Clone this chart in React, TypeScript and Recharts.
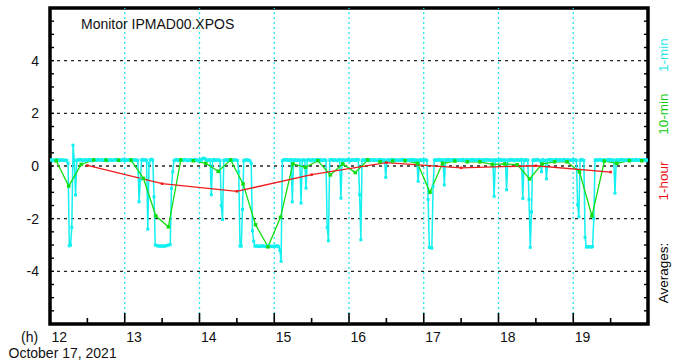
import React from 'react';
import { LineChart, Line, XAxis, YAxis, ReferenceLine, ReferenceArea } from 'recharts';

// 1-minute averages, 12:00 .. 20:00 (480 values, one per minute)
const oneMinValues: number[] = [
  0.22, 0.24, 0.2, 0.23, 0.21, 0.25, 0.22, 0.2, 0.24, 0.22, 0.21, 0.23, 0.2, 0.22, 0.1, -3.03, -3.0, -2.33, 0.79, 0.22,
  -1.1, 0.21, 0.24, 0.22, 0.25, 0.23, 0.2, 0.22, 0.24, 0.21, 0.23, 0.25, 0.22, 0.2, 0.23, 0.24, 0.22, 0.21, 0.25, 0.23,
  0.22, 0.24, 0.21, 0.23, 0.25, 0.22, 0.2, 0.23, 0.24, 0.22, 0.21, 0.23, 0.25, 0.22, 0.24, 0.2, 0.22, 0.23, 0.25, 0.21,
  0.23, 0.21, 0.24, 0.22, 0.25, 0.2, 0.23, 0.22, 0.24, 0.21, 0.22, -1.36, -0.52, 0.23, 0.25, 0.21, 0.24, 0.22, -2.4, 0.1,
  0.24, 0.26, 0.22, -1.17, -3.0, -3.02, -3.04, -3.03, -3.05, -3.04, -3.03, -3.05, -3.04, -3.02, -3.01, -3.0, -2.98, -0.85, -0.22, 0.2,
  0.23, 0.25, 0.22, 0.2, 0.24, 0.22, 0.21, 0.23, 0.25, 0.22, 0.2, 0.23, 0.22, 0.24, 0.21, 0.22, 0.25, 0.23, 0.2, 0.22,
  0.24, 0.22, 0.28, 0.3, 0.27, 0.22, 0.21, 0.24, 0.23, -1.09, 0.22, 0.25, 0.21, 0.23, 0.22, 0.24, 0.2, -1.5, -2.03, 0.22,
  0.22, 0.24, 0.21, 0.23, 0.25, 0.22, 0.2, 0.23, 0.24, 0.22, 0.21, -0.22, -3.04, -3.04, -1.65, 0.2, 0.23, 0.22, 0.24, 0.21,
  0.2, 0.1, -2.46, -2.86, -3.04, -3.05, -3.03, -3.06, -3.04, -3.05, -3.03, -3.04, -3.06, -3.05, -3.04, -3.03, -3.05, -3.04, -3.06, -3.05,
  -3.04, -3.05, -3.03, -3.06, -3.2, -3.62, 0.2, 0.23, 0.25, 0.22, 0.24, 0.21, 0.23, 0.25, -1.36, 0.22, 0.24, 0.21, 0.23, 0.22,
  0.23, -1.41, 0.22, 0.24, 0.21, -0.84, 0.23, 0.25, 0.22, 0.2, 0.24, 0.22, 0.23, 0.21, 0.25, 0.22, 0.24, 0.2, 0.23, 0.22,
  0.24, 0.21, -2.33, -2.84, 0.22, 0.25, 0.23, 0.21, 0.24, 0.22, 0.2, 0.23, 0.25, -1.22, 0.22, 0.24, 0.21, 0.23, 0.22, 0.25,
  0.22, 0.2, 0.24, 0.23, 0.21, 0.25, 0.22, 0.24, -1.09, -2.8, 0.22, 0.24, 0.21, 0.23, 0.25, 0.22, 0.2, 0.24, 0.23, 0.21,
  0.24, 0.22, 0.21, 0.23, 0.25, 0.22, 0.24, 0.2, 0.23, -0.43, 0.22, 0.24, 0.21, 0.23, 0.25, 0.22, 0.24, 0.21, 0.23, 0.22,
  0.21, 0.24, 0.22, 0.25, 0.23, 0.2, 0.22, 0.24, 0.21, 0.23, 0.25, 0.22, 0.24, 0.21, 0.23, -0.58, 0.22, 0.24, 0.2, 0.23,
  0.22, 0.24, 0.21, -1.27, -3.09, -3.1, -3.12, -0.77, 0.22, 0.24, 0.21, 0.23, 0.25, 0.22, 0.2, 0.24, -0.72, 0.23, 0.22, 0.25,
  0.23, 0.21, 0.24, 0.22, 0.25, 0.2, 0.23, 0.22, 0.24, 0.21, 0.23, 0.25, 0.22, 0.2, 0.24, 0.22, 0.23, 0.21, 0.25, 0.22,
  0.24, 0.21, 0.23, 0.22, 0.25, 0.2, 0.22, 0.24, 0.21, 0.23, 0.25, 0.22, 0.24, 0.21, 0.23, 0.22, -1.15, 0.24, 0.21, 0.23,
  0.22, 0.25, 0.21, 0.23, 0.24, 0.22, -0.9, 0.23, 0.21, 0.25, 0.22, 0.24, 0.2, 0.23, 0.22, 0.24, 0.21, 0.23, 0.25, -1.23,
  0.22, 0.24, 0.21, 0.23, -1.27, -3.09, -1.74, 0.22, 0.24, 0.21, 0.23, 0.25, 0.22, 0.2, -0.22, 0.24, 0.22, 0.21, -0.49, 0.23,
  0.25, 0.22, 0.24, 0.21, 0.23, 0.22, 0.25, 0.2, 0.23, 0.24, 0.22, 0.21, 0.25, 0.23, 0.22, 0.24, 0.2, 0.23, 0.21, 0.24,
  0.22, 0.24, 0.21, -1.47, -1.93, 0.22, 0.25, 0.23, 0.21, -2.71, -3.07, -3.08, -3.06, -3.07, -3.08, -3.06, -2.0, 0.22, 0.24, 0.21,
  0.23, 0.25, 0.22, 0.2, 0.24, 0.22, 0.21, 0.23, 0.25, 0.22, 0.24, 0.21, 0.23, -1.03, 0.22, 0.24, 0.2, 0.23, 0.25, 0.22,
  0.24, 0.21, 0.23, 0.22, 0.25, 0.2, 0.23, 0.24, 0.22, 0.21, 0.25, 0.23, 0.22, 0.24, 0.21, 0.23, 0.22, 0.25, 0.2, 0.23,
];

// 10-minute averages, centred at 12:05, 12:15, ... 19:55
const tenMinValues: number[] = [
  0.2, -0.76, 0.06, 0.23, 0.22, 0.22,
  0.22, -0.47, -1.9, -2.31, 0.23, 0.2,
  0.1, -0.2, 0.23, -0.68, -2.23, -3.07,
  -1.95, 0.08, -0.05, 0.2, -0.34, 0.08,
  -0.25, 0.23, 0.16, 0.19, 0.2, 0.1,
  -1.0, 0.1, 0.19, 0.16, 0.16, 0.06,
  0.08, 0.05, -0.49, 0.08, 0.16, 0.16,
  -0.22, -1.9, 0.19, 0.1, 0.2, 0.2,
];

// 1-hour averages, centred at 12:30 .. 19:30
const hourValues: number[] = [0.02, -0.67, -0.96, -0.33, 0.13, -0.07, 0.01, -0.23];

const xTicks: number[] = [12, 12.5, 13, 13.5, 14, 14.5, 15, 15.5, 16, 16.5, 17, 17.5, 18, 18.5, 19, 19.5, 20];
const yTicks: number[] = [-5.5, -5, -4.5, -4, -3.5, -3, -2.5, -2, -1.5, -1, -0.5, 0, 0.5, 1, 1.5, 2, 2.5, 3, 3.5, 4, 4.5, 5, 5.5];
const yLabelTicks: number[] = [-4, -2, 0, 2, 4];
const hourGrid: number[] = [13, 14, 15, 16, 17, 18, 19];

const oneMinData = oneMinValues.map((v, i) => ({ t: 12 + (i + 0.5) / 60, v }));
const tenMinData = tenMinValues.map((v, i) => ({ t: 12 + (i * 10 + 5) / 60, v }));
const hourData = hourValues.map((v, i) => ({ t: 12.5 + i, v }));

const W = 674;
const H = 362;
const M = { top: 8, right: 26, left: 0, bottom: 0 };
const YW = 50;
const XH = 38;
const PLOT_RIGHT = W - M.right;
const FONT = '"Liberation Sans", Arial, Helvetica, sans-serif';

const CYAN = '#14f0f0';
const GREEN = '#11dd11';
const RED = '#ee1c1c';

const XTick = (props: any) => {
  const { x, y, payload } = props;
  const v = payload.value as number;
  const major = Math.abs(v - Math.round(v)) < 1e-6;
  return (
    <g>
      {v > 12 && v < 20 && (
        <line x1={x} x2={x} y1={y} y2={y - (major ? 11 : 6)} stroke="#000" strokeWidth={1.6} />
      )}
      {major && v < 20 && (
        <text x={x + 1.5} y={y + 17.5} textAnchor="start" fontSize={14} fontFamily={FONT} fill="#111">
          {v}
        </text>
      )}
    </g>
  );
};

const YTick = (props: any) => {
  const { x, y, payload } = props;
  const v = payload.value as number;
  const isLabel = yLabelTicks.includes(v);
  return (
    <g>
      <line x1={x} x2={x + 4} y1={y} y2={y} stroke="#000" strokeWidth={1.4} />
      <line x1={PLOT_RIGHT - 4} x2={PLOT_RIGHT} y1={y} y2={y} stroke="#000" strokeWidth={1.4} />
      {isLabel && (
        <text x={x - 11} y={y + 5} textAnchor="end" fontSize={14} fontFamily={FONT} fill="#111">
          {v}
        </text>
      )}
    </g>
  );
};

const squareDot = (size: number, color: string) => (p: any) => {
  if (p.cx == null || p.cy == null) return <g key={p.index} />;
  return (
    <rect key={p.index} x={p.cx - size / 2} y={p.cy - size / 2} width={size} height={size} fill={color} stroke="none" />
  );
};

const sideLabels = [
  { text: '1-min', color: '#22e6e6', cy: 55 },
  { text: '10-min', color: '#11cc11', cy: 114 },
  { text: '1-hour', color: '#ee1111', cy: 181 },
  { text: 'Averages:', color: '#000', cy: 273 },
];

export default function App() {
  return (
    <div style={{ position: 'absolute', left: 0, top: 0, width: W, height: H, background: '#fff' }}>
      <LineChart width={W} height={H} margin={M}>
        <XAxis
          dataKey="t"
          type="number"
          domain={[12, 20]}
          ticks={xTicks}
          interval={0}
          allowDataOverflow
          axisLine={false}
          tickLine={false}
          tickSize={0}
          tickMargin={0}
          height={XH}
          tick={<XTick />}
        />
        <YAxis
          type="number"
          domain={[-6, 6]}
          ticks={yTicks}
          interval={0}
          allowDataOverflow
          axisLine={false}
          tickLine={false}
          tickSize={0}
          tickMargin={0}
          width={YW}
          tick={<YTick />}
        />
        {yLabelTicks.map((v) => (
          <ReferenceLine key={'h' + v} y={v} stroke="#222" strokeWidth={1.3} strokeDasharray="3 4" />
        ))}
        {hourGrid.map((v) => (
          <ReferenceLine key={'v' + v} x={v} stroke="#22e6ee" strokeWidth={1.3} strokeDasharray="2 3" />
        ))}
        <Line
          data={oneMinData}
          dataKey="v"
          type="linear"
          stroke={CYAN}
          strokeWidth={1.5}
          dot={squareDot(3, CYAN)}
          activeDot={false}
          isAnimationActive={false}
        />
        <Line
          data={tenMinData}
          dataKey="v"
          type="linear"
          stroke={GREEN}
          strokeWidth={1.3}
          dot={squareDot(3.5, GREEN)}
          activeDot={false}
          isAnimationActive={false}
        />
        <Line
          data={hourData}
          dataKey="v"
          type="linear"
          stroke={RED}
          strokeWidth={1.3}
          dot={squareDot(2.5, RED)}
          activeDot={false}
          isAnimationActive={false}
        />
        <ReferenceArea x1={12} x2={20} y1={-6} y2={6} fill="none" fillOpacity={0} stroke="#000" strokeWidth={3.5} ifOverflow="visible" />
      </LineChart>
      <svg width={W} height={H} style={{ position: 'absolute', left: 0, top: 0, pointerEvents: 'none' }}>
        <text x={81} y={29} fontSize={14} fontFamily={FONT} fill="#111">Monitor IPMAD00.XPOS</text>
        <text x={21} y={341.5} fontSize={14} fontFamily={FONT} fill="#111">(h)</text>
        <text x={8.5} y={358} fontSize={14} fontFamily={FONT} fill="#111">October 17, 2021</text>
        {sideLabels.map((s) => (
          <text
            key={s.text}
            x={668}
            y={s.cy}
            transform={`rotate(-90 668 ${s.cy})`}
            textAnchor="middle"
            fontSize={13.5}
            fontFamily={FONT}
            fill={s.color}
          >
            {s.text}
          </text>
        ))}
      </svg>
    </div>
  );
}
